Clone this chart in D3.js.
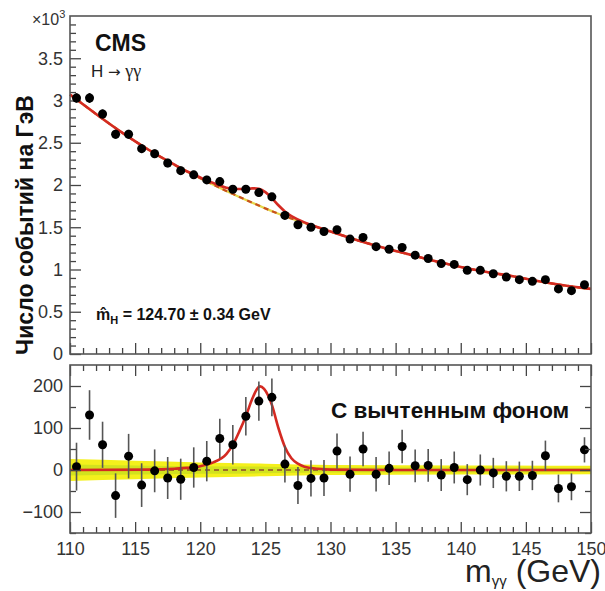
<!DOCTYPE html>
<html>
<head>
<meta charset="utf-8">
<script src="https://d3js.org/d3.v7.min.js"></script>
<style>
  body { margin: 0; background: #fff; }
  text { font-family: "Liberation Sans", Arial, sans-serif; }
</style>
</head>
<body>
<div id="chart"></div>
<script>
// bin centres (GeV)
var mass = [110.5, 111.5, 112.5, 113.5, 114.5, 115.5, 116.5, 117.5, 118.5, 119.5,
            120.5, 121.5, 122.5, 123.5, 124.5, 125.5, 126.5, 127.5, 128.5, 129.5,
            130.5, 131.5, 132.5, 133.5, 134.5, 135.5, 136.5, 137.5, 138.5, 139.5,
            140.5, 141.5, 142.5, 143.5, 144.5, 145.5, 146.5, 147.5, 148.5, 149.5];

// events per GeV, x10^3
var events = [3.03, 3.03, 2.84, 2.60, 2.60, 2.43, 2.37, 2.26, 2.17, 2.12,
              2.06, 2.04, 1.95, 1.95, 1.91, 1.86, 1.64, 1.53, 1.50, 1.45,
              1.47, 1.36, 1.38, 1.27, 1.24, 1.26, 1.17, 1.13, 1.07, 1.06,
              0.99, 0.99, 0.95, 0.91, 0.88, 0.86, 0.88, 0.77, 0.75, 0.82];

// background subtracted events
var residual = [8, 131, 60, -61, 33, -36, -2, -19, -22, 6,
                21, 75, 60, 128, 164, 173, 14, -37, -20, -19,
                45, -10, 50, -10, 4, 56, 10, 11, -12, 6,
                -23, 0, -7, -15, -15, -13, 34, -44, -40, 48];

var errors = [57, 59, 55, 53, 53, 52, 51, 50, 49, 48,
              48, 47, 47, 46, 47, 45, 44, 44, 43, 43,
              42, 42, 41, 41, 40, 40, 39, 39, 38, 38,
              37, 37, 36, 36, 35, 35, 36, 33, 32, 30];

// background fit
var bkgX = [110, 112, 114, 116, 118, 120, 122, 124, 126, 128, 130,
            132, 134, 136, 138, 140, 142, 144, 146, 148, 150];
var bkgY = [3.07, 2.84, 2.62, 2.42, 2.24, 2.08, 1.93, 1.79, 1.66, 1.55, 1.45,
            1.35, 1.26, 1.18, 1.10, 1.03, 0.97, 0.92, 0.86, 0.81, 0.77];

// signal + background fit
var fitX = [110, 112, 114, 116, 118, 119, 120, 121, 122, 122.5, 123, 123.5, 124, 124.5,
            125, 125.5, 126, 126.5, 127, 128, 130, 132, 134, 136, 138, 140, 142, 144, 146, 148, 150];
var fitY = [3.07, 2.84, 2.62, 2.42, 2.243, 2.16, 2.089, 2.023, 1.968, 1.955, 1.952, 1.953, 1.96, 1.955,
            1.915, 1.845, 1.76, 1.687, 1.633, 1.558, 1.45, 1.35, 1.26, 1.18, 1.10, 1.03, 0.97, 0.92, 0.86, 0.81, 0.77];

// signal shape, background subtracted
var sigX = [110, 116, 118, 119, 120, 121, 122, 122.5, 123, 123.5, 124, 124.3, 124.6,
            124.9, 125.2, 125.5, 126, 126.5, 127, 127.5, 128, 129, 130, 135, 150];
var sigY = [0, 1, 3, 5, 9, 18, 38, 60, 92, 128, 170, 190, 199,
            193, 178, 155, 100, 55, 28, 15, 8, 3, 1, 0, 0];

// background uncertainty, 1 and 2 sigma
var bandX = [110, 115, 120, 125, 130, 140, 150];
var band1 = [13, 11, 9, 8, 6, 6, 5];
var band2 = [26, 22, 18, 15, 12, 11, 10];

var topTicks = [0, 0.5, 1, 1.5, 2, 2.5, 3, 3.5];
var topLabels = ["0", "0.5", "1", "1.5", "2", "2.5", "3", "3.5"];
var botTicks = [-100, 0, 100, 200];
var xTicks = [110, 115, 120, 125, 130, 135, 140, 145, 150];

//Width and height
var w = 605;
var h = 591;
var left = 70, right = 591;
var top1 = 16, bot1 = 354;
var top2 = 365, bot2 = 533;

var svg = d3.select("#chart")
            .append("svg")
            .attr("width", w)
            .attr("height", h);

var x = d3.scaleLinear().domain([110, 150]).range([left, right]);
var yTop = d3.scaleLinear().domain([0, 4]).range([bot1, top1]);
var yBot = d3.scaleLinear().domain([-150, 250]).range([bot2, top2]);

var xMinor = d3.range(110, 151, 1).filter(d => d % 5 !== 0);
var topMinor = d3.range(0, 40, 1).map(d => d / 10).filter(d => Math.round(d * 10) % 5 !== 0);
var botMinor = [-150, -50, 50, 150];

function styleAxis(g, labels) {
  g.select(".domain").remove();
  g.selectAll("line").attr("stroke", "#444").attr("stroke-width", 1.3);
  if (labels) {
    g.selectAll("text")
     .attr("font-family", "'Liberation Sans', Arial, sans-serif")
     .attr("font-size", 18)
     .attr("fill", "#333");
  }
}

// ---------- top panel ----------
var p1 = svg.append("g");

p1.append("g").attr("transform", "translate(" + left + ",0)")
  .call(d3.axisLeft(yTop).tickValues(topTicks).tickSize(-11).tickPadding(7)
          .tickFormat((d, i) => topLabels[i]))
  .call(g => styleAxis(g, true));
p1.append("g").attr("transform", "translate(" + left + ",0)")
  .call(d3.axisLeft(yTop).tickValues(topMinor).tickSize(-6).tickFormat(""))
  .call(g => styleAxis(g, false));
p1.append("g").attr("transform", "translate(0," + bot1 + ")")
  .call(d3.axisBottom(x).tickValues(xTicks).tickSize(-11).tickFormat(""))
  .call(g => styleAxis(g, false));
p1.append("g").attr("transform", "translate(0," + bot1 + ")")
  .call(d3.axisBottom(x).tickValues(xMinor).tickSize(-6).tickFormat(""))
  .call(g => styleAxis(g, false));

// background only, dashed
var bkgLine = d3.line().x((d, i) => x(bkgX[i])).y(d => yTop(d)).curve(d3.curveCatmullRom);
p1.append("path").datum(bkgY)
  .attr("d", bkgLine)
  .attr("fill", "none")
  .attr("stroke", "#e6d84a")
  .attr("stroke-width", 2.2);
p1.append("path").datum(bkgY)
  .attr("d", bkgLine)
  .attr("fill", "none")
  .attr("stroke", "#c8501e")
  .attr("stroke-width", 2.2)
  .attr("stroke-dasharray", "5,4");

// full fit
p1.append("path").datum(fitY)
  .attr("d", d3.line().x((d, i) => x(fitX[i])).y(d => yTop(d)).curve(d3.curveCatmullRom))
  .attr("fill", "none")
  .attr("stroke", "#d42a22")
  .attr("stroke-width", 2.6);

p1.append("g").selectAll("line")
  .data(events)
  .enter()
  .append("line")
  .attr("x1", (d, i) => x(mass[i]))
  .attr("x2", (d, i) => x(mass[i]))
  .attr("y1", (d, i) => yTop(d + errors[i] / 1000))
  .attr("y2", (d, i) => yTop(d - errors[i] / 1000))
  .attr("stroke", "#111")
  .attr("stroke-width", 2);

p1.append("g").selectAll("circle")
  .data(events)
  .enter()
  .append("circle")
  .attr("cx", (d, i) => x(mass[i]))
  .attr("cy", d => yTop(d))
  .attr("r", 4.5)
  .attr("fill", "#000");

p1.append("rect")
  .attr("x", left).attr("y", top1)
  .attr("width", right - left).attr("height", bot1 - top1)
  .attr("fill", "none")
  .attr("stroke", "#555")
  .attr("stroke-width", 1.6);

// texts
var tx = p1.append("text").attr("x", 32).attr("y", 25)
  .attr("font-size", 16).attr("fill", "#333");
tx.append("tspan").text("×10");
tx.append("tspan").attr("dy", -7).attr("font-size", 11).text("3");

p1.append("text").attr("x", 95).attr("y", 51)
  .attr("font-size", 23).attr("font-weight", "bold").attr("fill", "#111")
  .text("CMS");

var hg = p1.append("text").attr("x", 91).attr("y", 77)
  .attr("font-size", 17).attr("fill", "#222");
hg.append("tspan").text("H ");
hg.append("tspan").attr("font-family", "'DejaVu Sans', sans-serif").attr("font-size", 15).text("→ ");
hg.append("tspan").attr("font-family", "'Liberation Serif', serif").attr("font-size", 18).text("γγ");

var mh = p1.append("text").attr("x", 96).attr("y", 320)
  .attr("font-size", 16).attr("font-weight", "bold").attr("fill", "#111");
mh.append("tspan").text("m\u0302");
mh.append("tspan").attr("dy", 4).attr("font-size", 11).text("H");
mh.append("tspan").attr("dy", -4).text(" = 124.70 ± 0.34 GeV");

svg.append("text")
  .attr("transform", "translate(33,225) rotate(-90)")
  .attr("text-anchor", "middle")
  .attr("font-size", 23)
  .attr("font-weight", "bold")
  .attr("fill", "#111")
  .text("Число событий на ГэВ");

// ---------- bottom panel ----------
var p2 = svg.append("g");

var band = function(arr) {
  return d3.area()
    .x((d, i) => x(bandX[i]))
    .y0((d, i) => yBot(-arr[i]))
    .y1((d, i) => yBot(arr[i]))
    .curve(d3.curveMonotoneX);
};
p2.append("path").datum(band2)
  .attr("d", band(band2))
  .attr("fill", "#f4f01c");
p2.append("path").datum(band1)
  .attr("d", band(band1))
  .attr("fill", "#d2e21e");

p2.append("line")
  .attr("x1", left).attr("x2", right)
  .attr("y1", yBot(0)).attr("y2", yBot(0))
  .attr("stroke", "#8a4a2a")
  .attr("stroke-width", 1.5)
  .attr("stroke-dasharray", "5,4");

p2.append("path").datum(sigY)
  .attr("d", d3.line().x((d, i) => x(sigX[i])).y(d => yBot(d)).curve(d3.curveMonotoneX))
  .attr("fill", "none")
  .attr("stroke", "#d42a22")
  .attr("stroke-width", 2.6);

p2.append("g").selectAll("line")
  .data(residual)
  .enter()
  .append("line")
  .attr("x1", (d, i) => x(mass[i]))
  .attr("x2", (d, i) => x(mass[i]))
  .attr("y1", (d, i) => yBot(d + errors[i]))
  .attr("y2", (d, i) => yBot(d - errors[i]))
  .attr("stroke", "#555")
  .attr("stroke-width", 1.6);

p2.append("g").selectAll("circle")
  .data(residual)
  .enter()
  .append("circle")
  .attr("cx", (d, i) => x(mass[i]))
  .attr("cy", d => yBot(d))
  .attr("r", 4.5)
  .attr("fill", "#000");

p2.append("g").attr("transform", "translate(" + left + ",0)")
  .call(d3.axisLeft(yBot).tickValues(botTicks).tickSize(-11).tickPadding(7))
  .call(g => styleAxis(g, true));
p2.append("g").attr("transform", "translate(" + left + ",0)")
  .call(d3.axisLeft(yBot).tickValues(botMinor).tickSize(-6).tickFormat(""))
  .call(g => styleAxis(g, false));
p2.append("g").attr("transform", "translate(" + right + ",0)")
  .call(d3.axisRight(yBot).tickValues(botTicks).tickSize(-11).tickFormat(""))
  .call(g => styleAxis(g, false));
p2.append("g").attr("transform", "translate(" + right + ",0)")
  .call(d3.axisRight(yBot).tickValues(botMinor).tickSize(-6).tickFormat(""))
  .call(g => styleAxis(g, false));
p2.append("g").attr("transform", "translate(0," + bot2 + ")")
  .call(d3.axisBottom(x).tickValues(xTicks).tickSize(-11).tickPadding(9).tickFormat(d3.format("d")))
  .call(g => styleAxis(g, true));
p2.append("g").attr("transform", "translate(0," + bot2 + ")")
  .call(d3.axisBottom(x).tickValues(xMinor).tickSize(-6).tickFormat(""))
  .call(g => styleAxis(g, false));
p2.append("g").attr("transform", "translate(0," + top2 + ")")
  .call(d3.axisTop(x).tickValues(xTicks).tickSize(-11).tickFormat(""))
  .call(g => styleAxis(g, false));
p2.append("g").attr("transform", "translate(0," + top2 + ")")
  .call(d3.axisTop(x).tickValues(xMinor).tickSize(-6).tickFormat(""))
  .call(g => styleAxis(g, false));

p2.append("rect")
  .attr("x", left).attr("y", top2)
  .attr("width", right - left).attr("height", bot2 - top2)
  .attr("fill", "none")
  .attr("stroke", "#555")
  .attr("stroke-width", 1.6);

p2.append("text").attr("x", 331).attr("y", 418)
  .attr("font-family", "'Open Sans', sans-serif")
  .attr("font-size", 22.5)
  .attr("font-weight", "bold")
  .attr("fill", "#111")
  .text("С вычтенным фоном");

var xl = svg.append("text").attr("x", 601).attr("y", 582)
  .attr("text-anchor", "end")
  .attr("font-size", 32)
  .attr("fill", "#222");
xl.append("tspan").text("m");
xl.append("tspan").attr("dy", 4).attr("font-size", 15).text("γγ");
xl.append("tspan").attr("dy", -4).text(" (GeV)");
</script>
</body>
</html>
